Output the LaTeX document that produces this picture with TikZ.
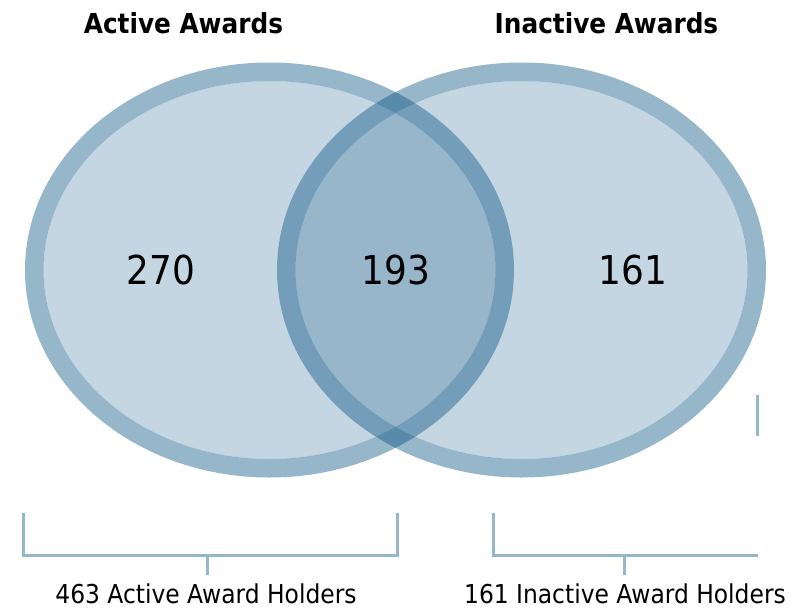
\documentclass[tikz,border=0pt]{standalone}
\usepackage{fontspec}
\setmainfont{DejaVu Sans Condensed}
\usetikzlibrary{calc}
\definecolor{awardblue}{RGB}{0,77,125}
\definecolor{bracketblue}{RGB}{148,184,202}
\tikzset{
	ring/.style={fill=awardblue, fill opacity=0.41, even odd rule},
	inner/.style={fill=awardblue, fill opacity=0.23},
	bracket/.style={line width=0.09cm, color=bracketblue},
	title/.style={font=\fontsize{23.5}{26}\selectfont\bfseries},
	count/.style={font=\fontsize{34}{38}\selectfont},
	holders/.style={font=\fontsize{22.2}{25}\selectfont, anchor=base, inner sep=0pt}
}
\begin{document}
\begin{tikzpicture}[x=0.03cm, y=-0.03cm]
			%%%%% START %%%%%
			\useasboundingbox (0, 0) rectangle (801, 608);
			
			\fill[ring] (269.5, 270) ellipse (244.5 and 207.5) (269.5, 270) ellipse (226 and 189);
			\fill[inner] (269.5, 270) ellipse (226 and 189);
			
			\fill[ring] (521.5, 270) ellipse (244.5 and 207.5) (521.5, 270) ellipse (226 and 189);
			\fill[inner] (521.5, 270) ellipse (226 and 189);
			
			\node[title] (activetitle) at (183.5, 23) {Active Awards};
			\node[title] (inactivetitle) at (606.5, 23) {Inactive Awards};
			
			\node[count] (onlyactive) at (161, 270) {270};
			\node[count] (both) at (396, 270) {193};
			\node[count] (onlyinactive) at (633, 270) {161};
			
			\node[holders] (activeholders) at (206, 603) {463 Active Award Holders};
			\node[holders] (inactiveholders) at (625, 603) {161 Inactive Award Holders};
			
			\coordinate (activetick) at (207, 555);
			\coordinate (inactivetick) at (624, 555);
			
			\draw[bracket] (23, 513) -- (23, 555) -- (397, 555) -- (397, 513);
			\draw[bracket] (activetick) -- (activetick |- 0, 575);
			
			\draw[bracket] (493, 513) -- (493, 555) -- (758, 555);
			\draw[bracket] (inactivetick) -- (inactivetick |- 0, 575);
			
			\draw[bracket] (757, 395) -- (757, 436);
			
			%%%%% END %%%%%
		\end{tikzpicture}
\end{document}
